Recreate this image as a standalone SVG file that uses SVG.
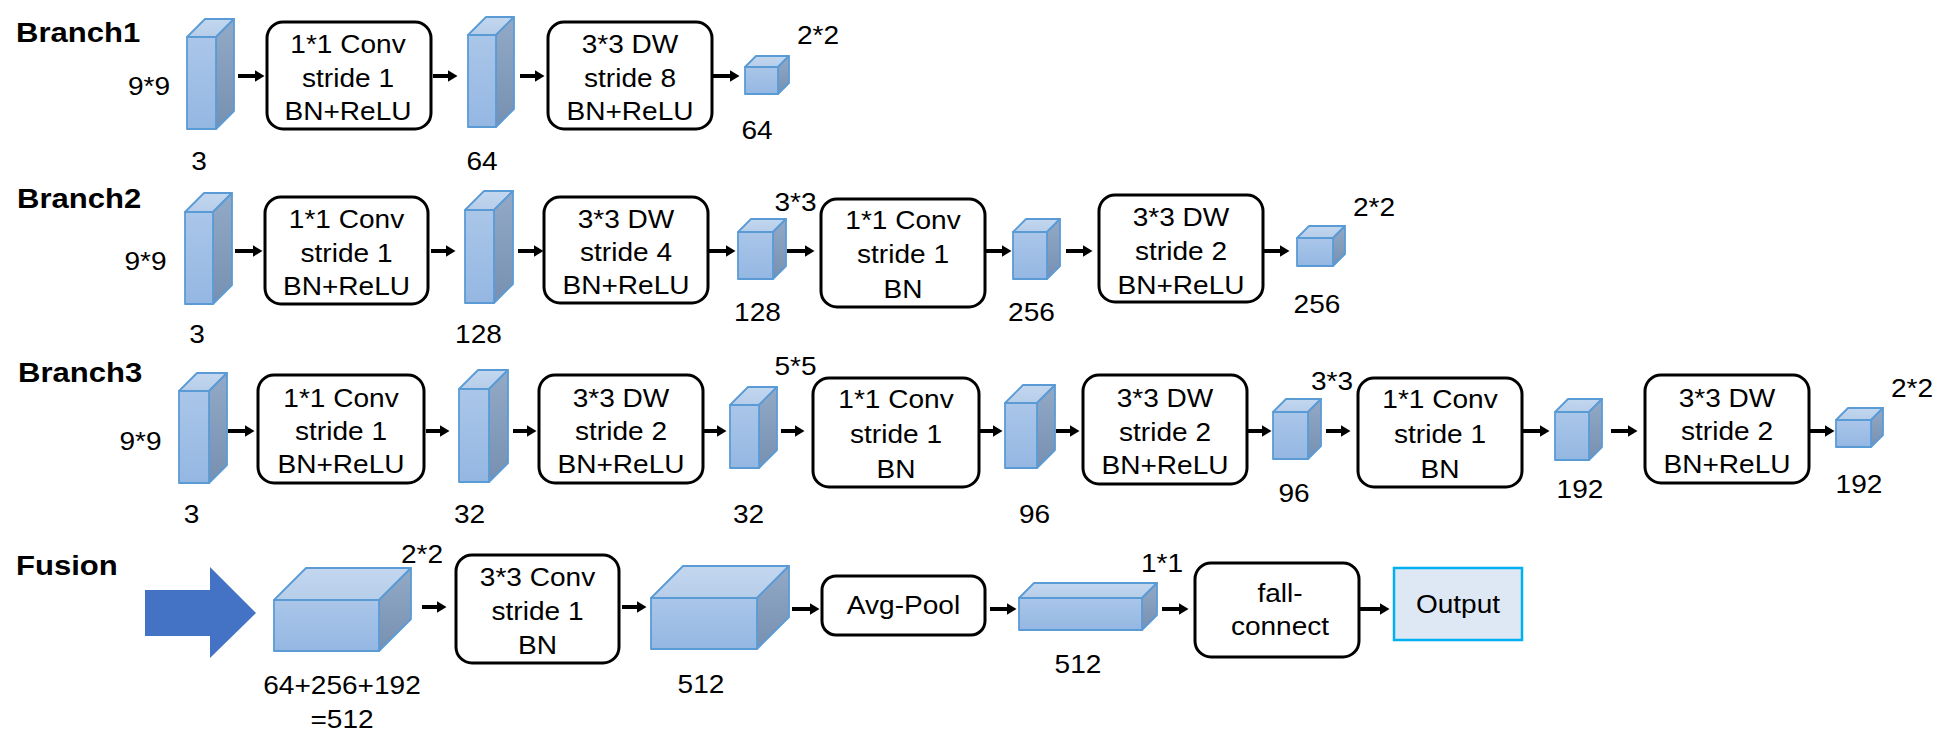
<svg xmlns="http://www.w3.org/2000/svg" width="1959" height="739" viewBox="0 0 1959 739">
<style>
  .t { font-family: "Liberation Sans", Arial, sans-serif; font-size: 25.5px; fill: #000; text-anchor: middle; }
  .h { font-family: "Liberation Sans", Arial, sans-serif; font-size: 27px; font-weight: bold; fill: #000; }
  .box { fill: #fff; stroke: #000; stroke-width: 3; }
  .cf { fill: url(#gf); stroke: #5b9bd5; stroke-width: 1.8; stroke-linejoin: round; }
  .ct { fill: url(#gt); stroke: #5b9bd5; stroke-width: 1.8; stroke-linejoin: round; }
  .cr { fill: url(#gr); stroke: #5b9bd5; stroke-width: 1.8; stroke-linejoin: round; }
  .ar { stroke: #000; stroke-width: 4; fill: none; marker-end: url(#ah); }
</style>
<defs>
  <linearGradient id="gf" x1="0" y1="0" x2="0" y2="1">
    <stop offset="0" stop-color="#aac6e9"/>
    <stop offset="1" stop-color="#94b7e2"/>
  </linearGradient>
  <linearGradient id="gt" x1="0" y1="0" x2="0" y2="1">
    <stop offset="0" stop-color="#c3d7ef"/>
    <stop offset="1" stop-color="#b6cde9"/>
  </linearGradient>
  <linearGradient id="gr" x1="0" y1="0" x2="0" y2="1">
    <stop offset="0" stop-color="#92aac7"/>
    <stop offset="1" stop-color="#7790b1"/>
  </linearGradient>
  <marker id="ah" viewBox="0 0 10 12" refX="0.5" refY="6" markerWidth="10" markerHeight="12" markerUnits="userSpaceOnUse" orient="auto">
    <path d="M0,0 L10,6 L0,12 z" fill="#000"/>
  </marker>
</defs>
<rect width="1959" height="739" fill="#fff"/>

<!-- Row labels -->
<g id="labels">
  <text class="h" transform="translate(16 42) scale(1.15 1)">Branch1</text>
  <text class="h" transform="translate(17 208) scale(1.15 1)">Branch2</text>
  <text class="h" transform="translate(18 382) scale(1.15 1)">Branch3</text>
  <text class="h" transform="translate(16 575) scale(1.15 1)">Fusion</text>
</g>

<!-- Branch 1 -->
<g id="b1-in">
  <polygon class="ct" points="187,37 205,19 234,19 216,37"/>
  <polygon class="cr" points="216,37 234,19 234,111 216,129"/>
  <rect class="cf" x="187" y="37" width="29" height="92"/>
  <text class="t" transform="translate(149 95) scale(1.1 1)">9*9</text>
  <text class="t" transform="translate(199 170) scale(1.1 1)">3</text>
</g>
<g id="b1-conv1">
  <rect class="box" x="267" y="22" width="164" height="107" rx="16"/>
  <text class="t" transform="translate(348 75.5) scale(1.1 1)"><tspan x="0" y="-22.5">1*1 Conv</tspan><tspan x="0" y="11">stride 1</tspan><tspan x="0" y="44.5">BN+ReLU</tspan></text>
</g>
<g id="b1-f1">
  <polygon class="ct" points="468,35 486,17 514,17 496,35"/>
  <polygon class="cr" points="496,35 514,17 514,109 496,127"/>
  <rect class="cf" x="468" y="35" width="28" height="92"/>
  <text class="t" transform="translate(482 170) scale(1.1 1)">64</text>
</g>
<g id="b1-dw">
  <rect class="box" x="548" y="22" width="164" height="107" rx="16"/>
  <text class="t" transform="translate(630 75.5) scale(1.1 1)"><tspan x="0" y="-22.5">3*3 DW</tspan><tspan x="0" y="11">stride 8</tspan><tspan x="0" y="44.5">BN+ReLU</tspan></text>
</g>
<g id="b1-out">
  <polygon class="ct" points="745,67 756,56 789,56 778,67"/>
  <polygon class="cr" points="778,67 789,56 789,83 778,94"/>
  <rect class="cf" x="745" y="67" width="33" height="27"/>
  <text class="t" transform="translate(818 44) scale(1.1 1)">2*2</text>
  <text class="t" transform="translate(757 139) scale(1.1 1)">64</text>
</g>

<!-- Branch 2 -->
<g id="b2-in">
  <polygon class="ct" points="185,212 204,193 232,193 213,212"/>
  <polygon class="cr" points="213,212 232,193 232,285 213,304"/>
  <rect class="cf" x="185" y="212" width="28" height="92"/>
  <text class="t" transform="translate(145.5 270) scale(1.1 1)">9*9</text>
  <text class="t" transform="translate(197 343) scale(1.1 1)">3</text>
</g>
<g id="b2-conv1">
  <rect class="box" x="265" y="197" width="163" height="107" rx="16"/>
  <text class="t" transform="translate(346.5 250.5) scale(1.1 1)"><tspan x="0" y="-22.5">1*1 Conv</tspan><tspan x="0" y="11">stride 1</tspan><tspan x="0" y="44.5">BN+ReLU</tspan></text>
</g>
<g id="b2-f1">
  <polygon class="ct" points="465,210 484,191 513,191 494,210"/>
  <polygon class="cr" points="494,210 513,191 513,284 494,303"/>
  <rect class="cf" x="465" y="210" width="29" height="93"/>
  <text class="t" transform="translate(478.5 343) scale(1.1 1)">128</text>
</g>
<g id="b2-dw1">
  <rect class="box" x="544" y="197" width="164" height="106" rx="16"/>
  <text class="t" transform="translate(626 250) scale(1.1 1)"><tspan x="0" y="-22.5">3*3 DW</tspan><tspan x="0" y="11">stride 4</tspan><tspan x="0" y="44.5">BN+ReLU</tspan></text>
</g>
<g id="b2-f2">
  <polygon class="ct" points="738,232 751,219 786,219 773,232"/>
  <polygon class="cr" points="773,232 786,219 786,266 773,279"/>
  <rect class="cf" x="738" y="232" width="35" height="47"/>
  <text class="t" transform="translate(795.5 210.5) scale(1.1 1)">3*3</text>
  <text class="t" transform="translate(757.5 321) scale(1.1 1)">128</text>
</g>
<g id="b2-conv2">
  <rect class="box" x="821" y="199" width="164" height="108" rx="16"/>
  <text class="t" transform="translate(903 253) scale(1.1 1)"><tspan x="0" y="-24.5">1*1 Conv</tspan><tspan x="0" y="10">stride 1</tspan><tspan x="0" y="45.5">BN</tspan></text>
</g>
<g id="b2-f3">
  <polygon class="ct" points="1013,232 1026,219 1060,219 1047,232"/>
  <polygon class="cr" points="1047,232 1060,219 1060,266 1047,279"/>
  <rect class="cf" x="1013" y="232" width="34" height="47"/>
  <text class="t" transform="translate(1031.5 321) scale(1.1 1)">256</text>
</g>
<g id="b2-dw2">
  <rect class="box" x="1099" y="195" width="164" height="107" rx="16"/>
  <text class="t" transform="translate(1181 248.5) scale(1.1 1)"><tspan x="0" y="-22.5">3*3 DW</tspan><tspan x="0" y="11.5">stride 2</tspan><tspan x="0" y="45.5">BN+ReLU</tspan></text>
</g>
<g id="b2-out">
  <polygon class="ct" points="1297,238 1309,226 1345,226 1333,238"/>
  <polygon class="cr" points="1333,238 1345,226 1345,254 1333,266"/>
  <rect class="cf" x="1297" y="238" width="36" height="28"/>
  <text class="t" transform="translate(1374 216) scale(1.1 1)">2*2</text>
  <text class="t" transform="translate(1317 313) scale(1.1 1)">256</text>
</g>

<!-- Branch 3 -->
<g id="b3-in">
  <polygon class="ct" points="179,391 197,373 227,373 209,391"/>
  <polygon class="cr" points="209,391 227,373 227,465 209,483"/>
  <rect class="cf" x="179" y="391" width="30" height="92"/>
  <text class="t" transform="translate(140.5 450) scale(1.1 1)">9*9</text>
  <text class="t" transform="translate(191.5 523) scale(1.1 1)">3</text>
</g>
<g id="b3-conv1">
  <rect class="box" x="258" y="375" width="166" height="108" rx="16"/>
  <text class="t" transform="translate(341 429) scale(1.1 1)"><tspan x="0" y="-22.5">1*1 Conv</tspan><tspan x="0" y="11">stride 1</tspan><tspan x="0" y="44.5">BN+ReLU</tspan></text>
</g>
<g id="b3-f1">
  <polygon class="ct" points="459,389 478,370 508,370 489,389"/>
  <polygon class="cr" points="489,389 508,370 508,463 489,482"/>
  <rect class="cf" x="459" y="389" width="30" height="93"/>
  <text class="t" transform="translate(469.5 523) scale(1.1 1)">32</text>
</g>
<g id="b3-dw1">
  <rect class="box" x="539" y="375" width="164" height="108" rx="16"/>
  <text class="t" transform="translate(621 429) scale(1.1 1)"><tspan x="0" y="-22.5">3*3 DW</tspan><tspan x="0" y="11">stride 2</tspan><tspan x="0" y="44.5">BN+ReLU</tspan></text>
</g>
<g id="b3-f2">
  <polygon class="ct" points="730,405 748,387 777,387 759,405"/>
  <polygon class="cr" points="759,405 777,387 777,450 759,468"/>
  <rect class="cf" x="730" y="405" width="29" height="63"/>
  <text class="t" transform="translate(795.5 375) scale(1.1 1)">5*5</text>
  <text class="t" transform="translate(748.5 523) scale(1.1 1)">32</text>
</g>
<g id="b3-conv2">
  <rect class="box" x="813" y="378" width="166" height="109" rx="16"/>
  <text class="t" transform="translate(896 432.5) scale(1.1 1)"><tspan x="0" y="-24.5">1*1 Conv</tspan><tspan x="0" y="10">stride 1</tspan><tspan x="0" y="45.5">BN</tspan></text>
</g>
<g id="b3-f3">
  <polygon class="ct" points="1005,403 1023,385 1055,385 1037,403"/>
  <polygon class="cr" points="1037,403 1055,385 1055,450 1037,468"/>
  <rect class="cf" x="1005" y="403" width="32" height="65"/>
  <text class="t" transform="translate(1034.5 523) scale(1.1 1)">96</text>
</g>
<g id="b3-dw2">
  <rect class="box" x="1083" y="375" width="164" height="109" rx="16"/>
  <text class="t" transform="translate(1165 429.5) scale(1.1 1)"><tspan x="0" y="-22.5">3*3 DW</tspan><tspan x="0" y="11">stride 2</tspan><tspan x="0" y="44.5">BN+ReLU</tspan></text>
</g>
<g id="b3-f4">
  <polygon class="ct" points="1273,412 1286,399 1321,399 1308,412"/>
  <polygon class="cr" points="1308,412 1321,399 1321,446 1308,459"/>
  <rect class="cf" x="1273" y="412" width="35" height="47"/>
  <text class="t" transform="translate(1332 390) scale(1.1 1)">3*3</text>
  <text class="t" transform="translate(1294 502) scale(1.1 1)">96</text>
</g>
<g id="b3-conv3">
  <rect class="box" x="1358" y="378" width="164" height="109" rx="16"/>
  <text class="t" transform="translate(1440 432.5) scale(1.1 1)"><tspan x="0" y="-24.5">1*1 Conv</tspan><tspan x="0" y="10">stride 1</tspan><tspan x="0" y="45.5">BN</tspan></text>
</g>
<g id="b3-f5">
  <polygon class="ct" points="1555,412 1568,399 1602,399 1589,412"/>
  <polygon class="cr" points="1589,412 1602,399 1602,447 1589,460"/>
  <rect class="cf" x="1555" y="412" width="34" height="48"/>
  <text class="t" transform="translate(1580 498) scale(1.1 1)">192</text>
</g>
<g id="b3-dw3">
  <rect class="box" x="1645" y="375" width="164" height="108" rx="16"/>
  <text class="t" transform="translate(1727 429) scale(1.1 1)"><tspan x="0" y="-22.5">3*3 DW</tspan><tspan x="0" y="11">stride 2</tspan><tspan x="0" y="44.5">BN+ReLU</tspan></text>
</g>
<g id="b3-out">
  <polygon class="ct" points="1836,420 1848,408 1883,408 1871,420"/>
  <polygon class="cr" points="1871,420 1883,408 1883,435 1871,447"/>
  <rect class="cf" x="1836" y="420" width="35" height="27"/>
  <text class="t" transform="translate(1912 397) scale(1.1 1)">2*2</text>
  <text class="t" transform="translate(1859 493) scale(1.1 1)">192</text>
</g>

<!-- Fusion -->
<g id="fusion-arrow">
  <polygon points="145,590 210,590 210,567 256,613 210,658 210,636 145,636" fill="#4472c4"/>
</g>
<g id="fu-concat">
  <polygon class="ct" points="274,600 306,568 411,568 379,600"/>
  <polygon class="cr" points="379,600 411,568 411,619 379,651"/>
  <rect class="cf" x="274" y="600" width="105" height="51"/>
  <text class="t" transform="translate(422 563) scale(1.1 1)">2*2</text>
  <text class="t" transform="translate(342 694) scale(1.1 1)"><tspan x="0" y="0">64+256+192</tspan><tspan x="0" y="34">=512</tspan></text>
</g>
<g id="fu-conv">
  <rect class="box" x="456" y="555" width="163" height="108" rx="16"/>
  <text class="t" transform="translate(537.5 609) scale(1.1 1)"><tspan x="0" y="-23.5">3*3 Conv</tspan><tspan x="0" y="11">stride 1</tspan><tspan x="0" y="45">BN</tspan></text>
</g>
<g id="fu-f1">
  <polygon class="ct" points="651,598 683,566 789,566 757,598"/>
  <polygon class="cr" points="757,598 789,566 789,617 757,649"/>
  <rect class="cf" x="651" y="598" width="106" height="51"/>
  <text class="t" transform="translate(701 693) scale(1.1 1)">512</text>
</g>
<g id="fu-pool">
  <rect class="box" x="822" y="576" width="163" height="59" rx="14"/>
  <text class="t" transform="translate(903.5 614) scale(1.1 1)">Avg-Pool</text>
</g>
<g id="fu-f2">
  <polygon class="ct" points="1019,598 1034,583 1157,583 1142,598"/>
  <polygon class="cr" points="1142,598 1157,583 1157,615 1142,630"/>
  <rect class="cf" x="1019" y="598" width="123" height="32"/>
  <text class="t" transform="translate(1162 572) scale(1.1 1)">1*1</text>
  <text class="t" transform="translate(1078 673) scale(1.1 1)">512</text>
</g>
<g id="fu-fc">
  <rect class="box" x="1195" y="563" width="164" height="94" rx="16"/>
  <text class="t" transform="translate(1280 610) scale(1.1 1)"><tspan x="0" y="-8">fall-</tspan><tspan x="0" y="25">connect</tspan></text>
</g>
<g id="fu-output">
  <rect x="1394" y="568" width="128" height="72" fill="#dee8f4" stroke="#00b0f0" stroke-width="2.5"/>
  <text class="t" transform="translate(1458 613) scale(1.1 1)">Output</text>
</g>

<!-- Connectors -->
<g id="connectors">
  <line class="ar" x1="238" y1="76" x2="255" y2="76"/>
  <line class="ar" x1="433" y1="76" x2="448" y2="76"/>
  <line class="ar" x1="520" y1="76" x2="535" y2="76"/>
  <line class="ar" x1="712" y1="76" x2="730" y2="76"/>

  <line class="ar" x1="235" y1="251" x2="253" y2="251"/>
  <line class="ar" x1="431" y1="251" x2="446" y2="251"/>
  <line class="ar" x1="518" y1="251" x2="534" y2="251"/>
  <line class="ar" x1="708" y1="251" x2="726" y2="251"/>
  <line class="ar" x1="787" y1="251" x2="805" y2="251"/>
  <line class="ar" x1="985" y1="251" x2="1002" y2="251"/>
  <line class="ar" x1="1066" y1="251" x2="1083" y2="251"/>
  <line class="ar" x1="1263" y1="251" x2="1280" y2="251"/>

  <line class="ar" x1="228" y1="431" x2="245" y2="431"/>
  <line class="ar" x1="426" y1="431" x2="440" y2="431"/>
  <line class="ar" x1="513" y1="431" x2="527" y2="431"/>
  <line class="ar" x1="703" y1="431" x2="717" y2="431"/>
  <line class="ar" x1="781" y1="431" x2="795" y2="431"/>
  <line class="ar" x1="979" y1="431" x2="993" y2="431"/>
  <line class="ar" x1="1056" y1="431" x2="1070" y2="431"/>
  <line class="ar" x1="1248" y1="431" x2="1262" y2="431"/>
  <line class="ar" x1="1326" y1="431" x2="1341" y2="431"/>
  <line class="ar" x1="1523" y1="431" x2="1540" y2="431"/>
  <line class="ar" x1="1611" y1="431" x2="1628" y2="431"/>
  <line class="ar" x1="1809" y1="431" x2="1825" y2="431"/>

  <line class="ar" x1="422" y1="607" x2="437" y2="607"/>
  <line class="ar" x1="622" y1="607" x2="637" y2="607"/>
  <line class="ar" x1="792" y1="609" x2="810" y2="609"/>
  <line class="ar" x1="990" y1="609" x2="1007" y2="609"/>
  <line class="ar" x1="1162" y1="609" x2="1179" y2="609"/>
  <line class="ar" x1="1359" y1="609" x2="1380" y2="609"/>
</g>
</svg>
